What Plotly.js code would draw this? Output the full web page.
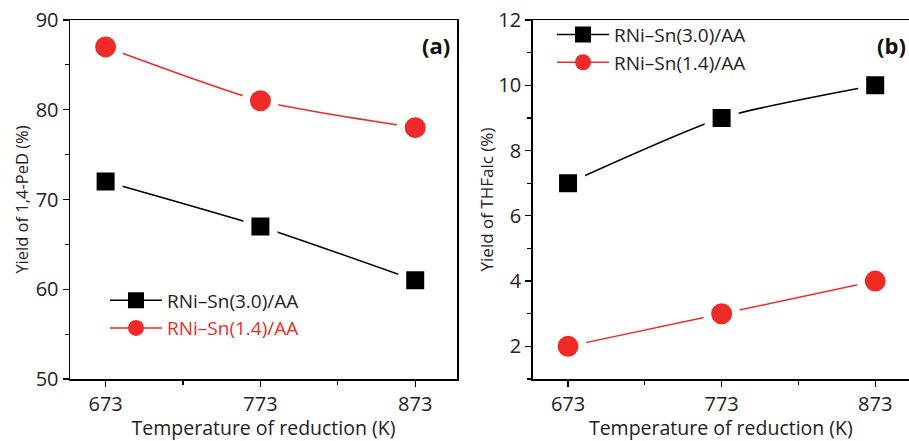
<!DOCTYPE html>
<html>
<head>
<meta charset="utf-8">
<script src="https://cdn.plot.ly/plotly-3.0.1.min.js"></script>
<style>html,body{margin:0;padding:0;background:#fff;}#chart{width:909px;height:441px;}</style>
</head>
<body>
<div id="chart"></div>
<script>
const temps = [673, 773, 873];
const seriesNames = ['RNi\u2013Sn(3.0)/AA', 'RNi\u2013Sn(1.4)/AA'];
const yieldPeD_Sn30 = [72, 67, 61];
const yieldPeD_Sn14 = [87, 81, 78];
const yieldTHF_Sn30 = [7, 9, 10];
const yieldTHF_Sn14 = [2, 3, 4];

const RED = '#ee2b26';
const FONT = 'Open Sans, sans-serif';

function tr(y, color, symbol, xa, ya) {
  return {
    x: temps, y: y, xaxis: xa, yaxis: ya, showlegend: false,
    type: 'scatter', mode: 'lines+markers',
    line: {color: color, width: 1.5, shape: 'spline', smoothing: 0.6},
    marker: {symbol: symbol, size: symbol === 'square' ? 26 : 29, color: color,
             line: {color: '#ffffff', width: 8}}
  };
}
function leg(name, color, symbol, xa, ya, legend) {
  return {
    x: [null], y: [null], xaxis: xa, yaxis: ya, name: name, legend: legend,
    type: 'scatter', mode: 'lines+markers',
    line: {color: color, width: 1.5},
    marker: {symbol: symbol, size: 20, color: color}
  };
}

const data = [
  tr(yieldPeD_Sn30, '#000000', 'square', 'x', 'y'),
  tr(yieldPeD_Sn14, RED, 'circle', 'x', 'y'),
  tr(yieldTHF_Sn30, '#000000', 'square', 'x2', 'y2'),
  tr(yieldTHF_Sn14, RED, 'circle', 'x2', 'y2'),
  leg(seriesNames[0], '#000000', 'square', 'x', 'y', 'legend'),
  leg(seriesNames[1], RED, 'circle', 'x', 'y', 'legend'),
  leg(seriesNames[0], '#000000', 'square', 'x2', 'y2', 'legend2'),
  leg(seriesNames[1], RED, 'circle', 'x2', 'y2', 'legend2')
];

const axX = {
  tickvals: temps, ticktext: temps.map(String),
  ticks: 'outside', ticklen: 6, tickwidth: 1.2, tickcolor: '#000',
  minor: {tickvals: [723, 823], ticks: 'outside', ticklen: 4, tickcolor: '#000'},
  showline: true, linecolor: '#000', linewidth: 1.5, mirror: true,
  showgrid: false, zeroline: false,
  tickfont: {family: FONT, size: 20, color: '#222'},
  title: {text: 'Temperature of reduction (K)', font: {family: FONT, size: 19.5, color: '#222'}, standoff: 8}
};

const legBase = {
  xanchor: 'left', yanchor: 'top',
  bgcolor: 'rgba(0,0,0,0)', borderwidth: 0,
  font: {family: FONT, size: 19, color: '#222'},
  tracegroupgap: 0, itemwidth: 52
};

const layout = {
  width: 909, height: 441,
  margin: {l: 70, r: 0, t: 20, b: 62},
  paper_bgcolor: '#fff', plot_bgcolor: '#fff',
  font: {family: FONT, color: '#222'},
  xaxis: Object.assign({}, axX, {domain: [0, 0.4613], range: [650, 900], anchor: 'y'}),
  xaxis2: Object.assign({}, axX, {domain: [0.5515, 1], range: [650, 895], anchor: 'y2'}),
  yaxis: {
    domain: [0, 1], range: [50, 90], dtick: 10, tick0: 50, anchor: 'x',
    ticks: 'outside', ticklen: 6, tickwidth: 1.2, tickcolor: '#000',
    minor: {dtick: 5, ticks: 'outside', ticklen: 4, tickcolor: '#000'},
    showline: true, linecolor: '#000', linewidth: 1.5, mirror: true,
    showgrid: false, zeroline: false,
    tickfont: {family: FONT, size: 20, color: '#222'},
    title: {text: 'Yield of 1,4-PeD (%)', font: {family: FONT, size: 16.5, color: '#222'}, standoff: 3}
  },
  yaxis2: {
    domain: [0, 1], range: [1, 12], dtick: 2, tick0: 0, anchor: 'x2',
    ticks: 'outside', ticklen: 6, tickwidth: 1.2, tickcolor: '#000',
    minor: {dtick: 1, ticks: 'outside', ticklen: 4, tickcolor: '#000'},
    showline: true, linecolor: '#000', linewidth: 1.5, mirror: false,
    showgrid: false, zeroline: false,
    tickfont: {family: FONT, size: 20, color: '#222'},
    title: {text: 'Yield of THFalc (%)', font: {family: FONT, size: 17, color: '#222'}, standoff: 0}
  },
  legend: Object.assign({}, legBase, {x: 0.0417, y: 0.272}),
  legend2: Object.assign({}, legBase, {x: 0.5745, y: 1.012}),
  showlegend: true,
  annotations: [
    {text: '<b>(a)</b>', xref: 'paper', yref: 'paper', x: 0.455, y: 0.93, xanchor: 'right', yanchor: 'middle',
     showarrow: false, font: {family: FONT, size: 22, color: '#111'}},
    {text: '<b>(b)</b>', xref: 'paper', yref: 'paper', x: 0.999, y: 0.93, xanchor: 'right', yanchor: 'middle',
     showarrow: false, font: {family: FONT, size: 22, color: '#111'}}
  ]
};

Plotly.newPlot('chart', data, layout, {staticPlot: true, displayModeBar: false}).then(function () {
  document.querySelectorAll('.legend .traces').forEach(function (g) {
    const t = g.querySelector('.legendtext');
    if (t && t.textContent.indexOf('1.4') >= 0) t.style.fill = RED;
  });
});
</script>
</body>
</html>
